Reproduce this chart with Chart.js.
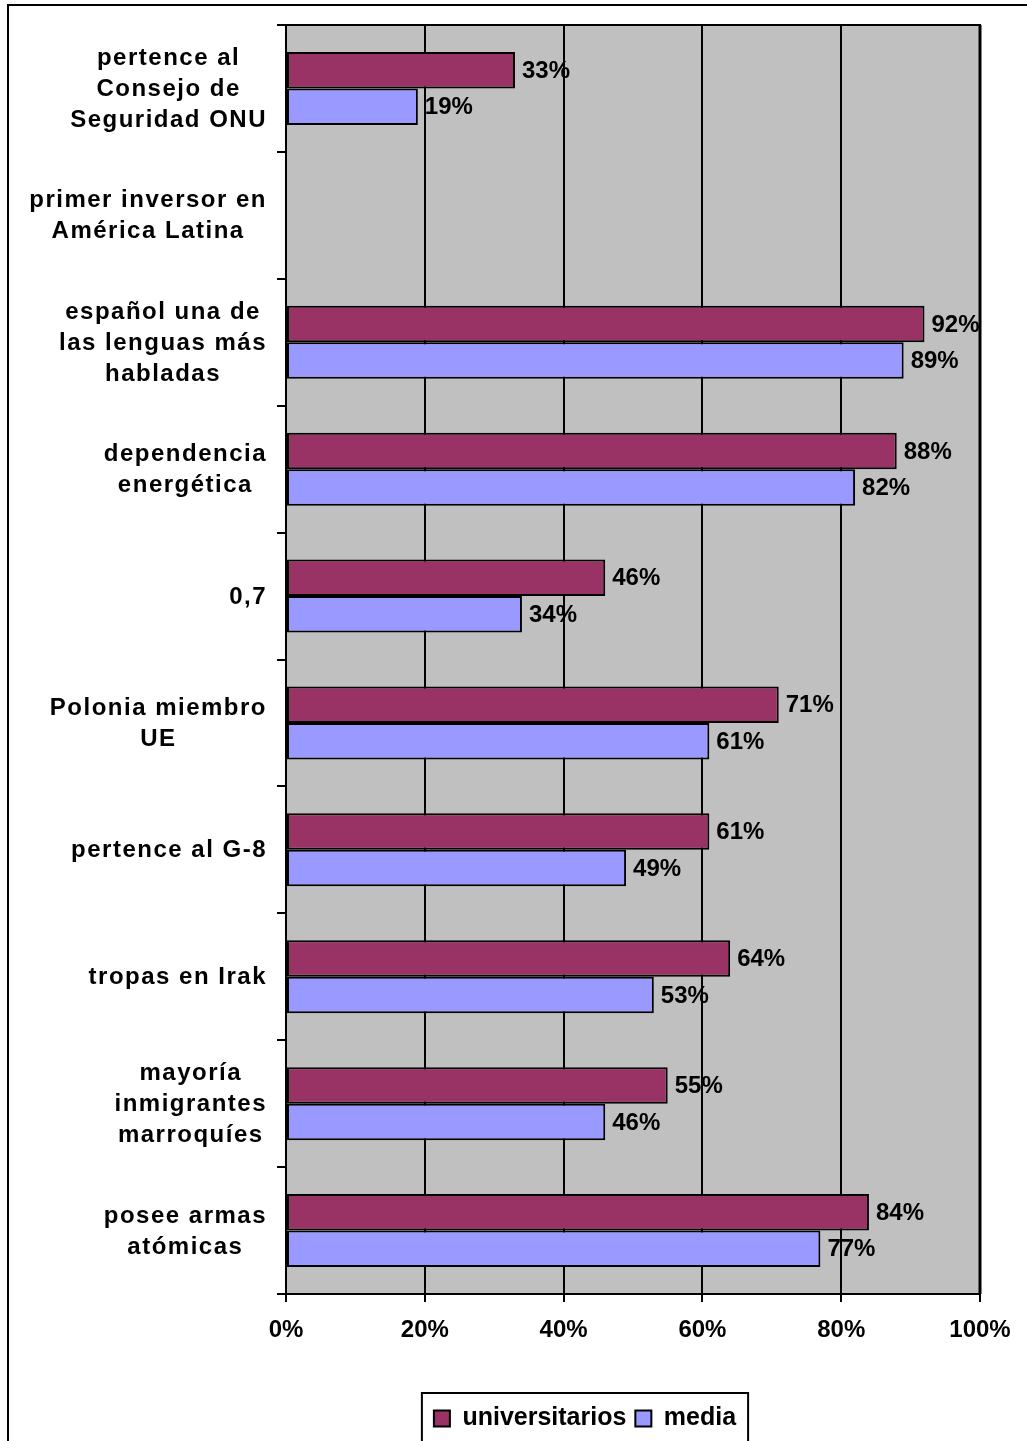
<!DOCTYPE html>
<html>
<head>
<meta charset="utf-8">
<script src="https://cdn.jsdelivr.net/npm/chart.js@4/dist/chart.umd.min.js"></script>
<style>
  body { margin: 0; background: #fff; }
  #wrap { width: 1027px; height: 1441px; overflow: hidden; }
</style>
</head>
<body>
<div id="wrap"><canvas id="chart" width="1027" height="1441"></canvas></div>
<script>
const categories = [
  ["pertence al", "Consejo de", "Seguridad ONU"],
  ["primer inversor en", "América Latina"],
  ["español una de", "las lenguas más", "habladas"],
  ["dependencia", "energética"],
  ["0,7"],
  ["Polonia miembro", "UE"],
  ["pertence al G-8"],
  ["tropas en Irak"],
  ["mayoría", "inmigrantes", "marroquíes"],
  ["posee armas", "atómicas"]
];
const universitarios = [33, null, 92, 88, 46, 71, 61, 64, 55, 84];
const media = [19, null, 89, 82, 34, 61, 49, 53, 46, 77];
const xTicks = [0, 20, 40, 60, 80, 100];

const FONT = "'Liberation Sans', Arial, sans-serif";

// gray plot background + outer frame
const background = {
  id: "background",
  beforeDraw(chart) {
    const { ctx, chartArea: a } = chart;
    ctx.save();
    ctx.fillStyle = "#C0C0C0";
    ctx.fillRect(a.left, a.top, a.right - a.left, a.bottom - a.top);
    ctx.strokeStyle = "#000";
    ctx.lineWidth = 2;
    ctx.strokeRect(8, 5, 1100, 1500);
    ctx.restore();
  },
  afterDraw(chart) {
    const { ctx, chartArea: a } = chart;
    ctx.save();
    ctx.strokeStyle = "#000";
    ctx.lineWidth = 2;
    ctx.beginPath();
    ctx.moveTo(a.left, a.top);
    ctx.lineTo(a.right + 1, a.top);
    ctx.stroke();
    ctx.lineWidth = 3;
    ctx.beginPath();
    ctx.moveTo(a.right, a.top);
    ctx.lineTo(a.right, a.bottom);
    ctx.stroke();
    ctx.restore();
  }
};

// value labels at bar ends
const valueLabels = {
  id: "valueLabels",
  afterDatasetsDraw(chart) {
    const { ctx } = chart;
    ctx.save();
    ctx.font = "bold 24px " + FONT;
    ctx.fillStyle = "#000";
    ctx.textAlign = "left";
    ctx.textBaseline = "middle";
    chart.data.datasets.forEach((ds, i) => {
      chart.getDatasetMeta(i).data.forEach((bar, j) => {
        const v = ds.data[j];
        if (v === null) return;
        ctx.fillText(v + "%", bar.x + 7, bar.y + 1);
      });
    });
    ctx.restore();
  }
};

// category labels: lines centred inside a block that sits against the axis
const categoryLabels = {
  id: "categoryLabels",
  afterDraw(chart) {
    const { ctx } = chart;
    const y = chart.scales.y;
    ctx.save();
    ctx.font = "bold 24px " + FONT;
    ctx.letterSpacing = "1.5px";
    ctx.fillStyle = "#000";
    ctx.textAlign = "center";
    ctx.textBaseline = "middle";
    categories.forEach((lines, i) => {
      const cy = y.getPixelForValue(i);
      const w = Math.max(...lines.map((l) => ctx.measureText(l).width));
      const cx = 267 - w / 2;
      lines.forEach((line, k) => {
        ctx.fillText(line, cx, cy + (k - (lines.length - 1) / 2) * 31 + 1);
      });
    });
    ctx.restore();
  }
};

// box round the legend
const legendBox = {
  id: "legendBox",
  afterDraw(chart) {
    const lg = chart.legend;
    if (!lg || !lg.legendHitBoxes.length) return;
    const boxes = lg.legendHitBoxes;
    const first = boxes[0];
    const last = boxes[boxes.length - 1];
    const left = first.left - 12;
    const right = last.left + last.width + 12;
    const { ctx } = chart;
    ctx.save();
    ctx.strokeStyle = "#000";
    ctx.lineWidth = 2;
    ctx.strokeRect(left, lg.top - 4, right - left, 100);
    ctx.restore();
  }
};

const ctx = document.getElementById("chart").getContext("2d");
new Chart(ctx, {
  type: "bar",
  data: {
    labels: categories,
    datasets: [
      {
        label: "universitarios",
        data: universitarios,
        backgroundColor: "#993366",
        borderColor: "#000",
        borderWidth: 2,
        borderSkipped: false
      },
      {
        label: "media",
        data: media,
        backgroundColor: "#9999FF",
        borderColor: "#000",
        borderWidth: 2,
        borderSkipped: false
      }
    ]
  },
  options: {
    indexAxis: "y",
    responsive: false,
    animation: false,
    categoryPercentage: 0.575,
    barPercentage: 1.0,
    layout: {
      padding: { left: 190, right: 47, top: 25, bottom: 0 }
    },
    scales: {
      x: {
        min: 0,
        max: 100,
        afterBuildTicks(scale) {
          scale.ticks = xTicks.map((v) => ({ value: v }));
        },
        afterFit(scale) {
          scale.height = 103;
        },
        ticks: {
          callback: (v) => v + "%",
          color: "#000",
          padding: 14,
          maxRotation: 0,
          font: { family: FONT, size: 24, weight: "bold" }
        },
        grid: {
          color: "#000",
          lineWidth: 2,
          tickLength: 8,
          drawOnChartArea: true
        },
        border: { color: "#000", width: 2 }
      },
      y: {
        afterFit(scale) {
          scale.width = 96;
        },
        ticks: { display: false },
        grid: {
          color: "#000",
          lineWidth: 2,
          tickLength: 9,
          drawOnChartArea: false,
          offset: true
        },
        border: { color: "#000", width: 2 }
      }
    },
    plugins: {
      legend: {
        position: "bottom",
        labels: {
          boxWidth: 16,
          boxHeight: 16,
          padding: 9,
          color: "#000",
          font: { family: FONT, size: 25, weight: "bold" }
        }
      },
      tooltip: { enabled: false }
    }
  },
  plugins: [background, valueLabels, categoryLabels, legendBox]
});
</script>
</body>
</html>
